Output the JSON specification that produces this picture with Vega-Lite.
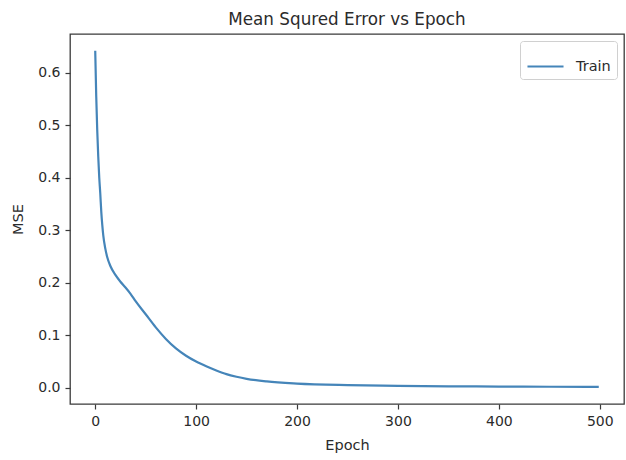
{
  "$schema": "https://vega.github.io/schema/vega-lite/v6.json",
  "width": 554,
  "height": 370,
  "autosize": {"type": "none"},
  "padding": {"left": 70, "top": 34, "right": 2, "bottom": 56},
  "background": "white",
  "title": {"text": "Mean Squred Error vs Epoch", "fontSize": 16.8, "font": "DejaVu Sans", "fontWeight": "normal", "color": "#2b2b2b", "offset": 5, "anchor": "middle"},
  "data": {"values": [
    {"epoch": 0, "mse": 0.642, "series": "Train"},
    {"epoch": 1, "mse": 0.555, "series": "Train"},
    {"epoch": 2, "mse": 0.49, "series": "Train"},
    {"epoch": 3, "mse": 0.44, "series": "Train"},
    {"epoch": 4, "mse": 0.40, "series": "Train"},
    {"epoch": 5, "mse": 0.37, "series": "Train"},
    {"epoch": 6, "mse": 0.335, "series": "Train"},
    {"epoch": 7, "mse": 0.31, "series": "Train"},
    {"epoch": 8, "mse": 0.29, "series": "Train"},
    {"epoch": 10, "mse": 0.265, "series": "Train"},
    {"epoch": 12, "mse": 0.248, "series": "Train"},
    {"epoch": 15, "mse": 0.232, "series": "Train"},
    {"epoch": 20, "mse": 0.215, "series": "Train"},
    {"epoch": 25, "mse": 0.202, "series": "Train"},
    {"epoch": 30, "mse": 0.191, "series": "Train"},
    {"epoch": 35, "mse": 0.179, "series": "Train"},
    {"epoch": 40, "mse": 0.165, "series": "Train"},
    {"epoch": 50, "mse": 0.140, "series": "Train"},
    {"epoch": 60, "mse": 0.115, "series": "Train"},
    {"epoch": 70, "mse": 0.093, "series": "Train"},
    {"epoch": 80, "mse": 0.075, "series": "Train"},
    {"epoch": 90, "mse": 0.061, "series": "Train"},
    {"epoch": 100, "mse": 0.050, "series": "Train"},
    {"epoch": 110, "mse": 0.041, "series": "Train"},
    {"epoch": 120, "mse": 0.033, "series": "Train"},
    {"epoch": 130, "mse": 0.026, "series": "Train"},
    {"epoch": 140, "mse": 0.021, "series": "Train"},
    {"epoch": 150, "mse": 0.017, "series": "Train"},
    {"epoch": 170, "mse": 0.012, "series": "Train"},
    {"epoch": 200, "mse": 0.008, "series": "Train"},
    {"epoch": 250, "mse": 0.005, "series": "Train"},
    {"epoch": 300, "mse": 0.0035, "series": "Train"},
    {"epoch": 350, "mse": 0.0027, "series": "Train"},
    {"epoch": 400, "mse": 0.0022, "series": "Train"},
    {"epoch": 450, "mse": 0.0019, "series": "Train"},
    {"epoch": 499, "mse": 0.0017, "series": "Train"}
  ]},
  "mark": {"type": "line", "strokeWidth": 2.2, "interpolate": "monotone"},
  "encoding": {
    "x": {
      "field": "epoch", "type": "quantitative",
      "scale": {"domain": [-25, 524], "nice": false, "zero": false},
      "axis": {"values": [0, 100, 200, 300, 400, 500], "title": "Epoch", "titlePadding": 10, "labelPadding": 5}
    },
    "y": {
      "field": "mse", "type": "quantitative",
      "scale": {"domain": [-0.031, 0.674], "nice": false, "zero": false},
      "axis": {"values": [0, 0.1, 0.2, 0.3, 0.4, 0.5, 0.6], "format": ".1f", "title": "MSE", "titlePadding": 12, "labelPadding": 5}
    },
    "color": {
      "field": "series", "type": "nominal",
      "scale": {"range": ["#4585b9"]},
      "legend": {
        "title": null, "orient": "top-right", "offset": 7,
        "symbolType": "stroke", "symbolSize": 1300, "symbolStrokeWidth": 2.2,
        "labelFontSize": 14.5, "labelFont": "DejaVu Sans", "labelColor": "#2b2b2b",
        "fillColor": "white", "strokeColor": "#d0d0d0", "cornerRadius": 3,
        "padding": 6, "labelOffset": 11
      }
    }
  },
  "config": {
    "view": {"stroke": "#3a3a3a", "strokeWidth": 1.3},
    "axis": {
      "grid": false, "domain": false,
      "labelFont": "DejaVu Sans", "labelFontSize": 14, "labelColor": "#2b2b2b",
      "titleFont": "DejaVu Sans", "titleFontSize": 14.5, "titleFontWeight": "normal", "titleColor": "#2b2b2b",
      "tickColor": "#3a3a3a", "tickSize": 5, "tickWidth": 1.2
    }
  }
}
